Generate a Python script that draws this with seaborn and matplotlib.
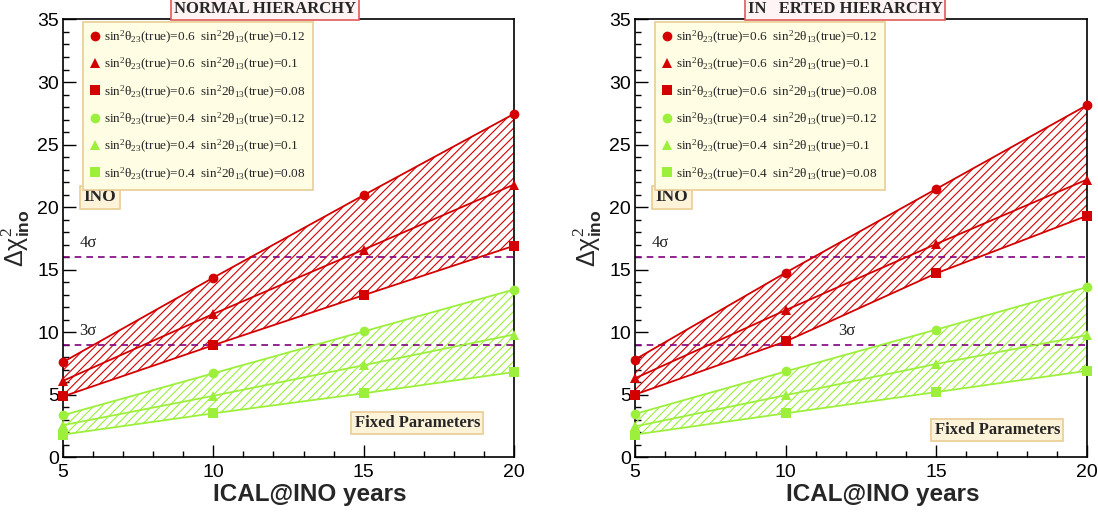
import numpy as np
import pandas as pd
import matplotlib
matplotlib.use("Agg")
import matplotlib.pyplot as plt
from matplotlib.lines import Line2D
from matplotlib.ticker import MultipleLocator
import seaborn as sns

# ---- data: delta chi^2 vs exposure (years) ----
years = [5, 10, 15, 20]

nh_06_012 = [7.6, 14.35, 20.95, 27.45]
nh_06_010 = [6.1, 11.45, 16.6, 21.8]
nh_06_008 = [4.85, 8.95, 12.95, 16.9]
nh_04_012 = [3.35, 6.7, 10.05, 13.4]
nh_04_010 = [2.55, 4.9, 7.35, 9.8]
nh_04_008 = [1.8, 3.5, 5.1, 6.8]

ih_06_012 = [7.8, 14.75, 21.45, 28.15]
ih_06_010 = [6.3, 11.75, 17.05, 22.2]
ih_06_008 = [5.0, 9.25, 14.7, 19.3]
ih_04_012 = [3.45, 6.85, 10.2, 13.6]
ih_04_010 = [2.45, 4.95, 7.45, 9.75]
ih_04_008 = [1.8, 3.5, 5.2, 6.9]

s23_values = [0.6, 0.6, 0.6, 0.4, 0.4, 0.4]
s13_values = [0.12, 0.1, 0.08, 0.12, 0.1, 0.08]
s23_text = ["0.6", "0.6", "0.6", "0.4", "0.4", "0.4"]
s13_text = ["0.12", "0.1", "0.08", "0.12", "0.1", "0.08"]

panels = {
    "NORMAL HIERARCHY": [nh_06_012, nh_06_010, nh_06_008, nh_04_012, nh_04_010, nh_04_008],
    "IN   ERTED HIERARCHY": [ih_06_012, ih_06_010, ih_06_008, ih_04_012, ih_04_010, ih_04_008],
}
sigma_levels = [16, 9]
sigma_labels = ["4σ", "3σ"]

RED = "#d40000"
GREEN = "#9cf03c"
PURPLE = "#800080"
palette = {0.6: RED, 0.4: GREEN}
marker_map = {0.12: "o", 0.1: "^", 0.08: "s"}

rows = []
for name, series in panels.items():
    for vals, s23, s13 in zip(series, s23_values, s13_values):
        for y, v in zip(years, vals):
            rows.append({"panel": name, "year": y, "chi2": v, "s23": s23, "s13": s13})
df = pd.DataFrame(rows)

sns.set_style("white")
plt.rcParams["font.family"] = ["Liberation Sans", "DejaVu Sans"]
plt.rcParams["mathtext.fontset"] = "custom"
plt.rcParams["mathtext.rm"] = "Liberation Serif"
plt.rcParams["mathtext.it"] = "Liberation Serif:italic"
plt.rcParams["mathtext.bf"] = "Liberation Sans:bold"
plt.rcParams["hatch.linewidth"] = 0.8

fig = plt.figure(figsize=(10.98, 5.13), dpi=100)
axes_rects = [[0.0574, 0.109, 0.4107, 0.853], [0.5783, 0.109, 0.4117, 0.853]]
title_x = [265 / 1098, 845 / 1098]
sigma_text_x = [[5.55, 5.55], [5.55, 11.75]]
fixed_box_x = [0.925, 0.94]
fixed_box_y = [0.078, 0.062]

serif = ["Liberation Serif", "DejaVu Serif"]

for i, (name, series) in enumerate(panels.items()):
    ax = fig.add_axes(axes_rects[i])
    sub = df[df["panel"] == name]

    # hatched bands between the 0.12 and 0.08 curves
    for hi, lo, col in [(series[0], series[2], RED), (series[3], series[5], GREEN)]:
        ax.fill_between(years, lo, hi, facecolor="none", edgecolor=col,
                        hatch="////", linewidth=0, zorder=1)

    sns.lineplot(data=sub, x="year", y="chi2", hue="s23", style="s13",
                 palette=palette, markers=marker_map, dashes=False,
                 markersize=7, markeredgewidth=0, linewidth=1.3,
                 legend=False, ax=ax, clip_on=False, zorder=3)

    for lvl, lab, tx in zip(sigma_levels, sigma_labels, sigma_text_x[i]):
        ax.axhline(lvl, color=PURPLE, linestyle=(0, (4, 3)), linewidth=1.2, zorder=2)
        ax.text(tx, lvl + 0.45, lab, family=serif, fontsize=12,
                ha="left", va="bottom", color="#222222")

    ax.set_xlim(5, 20)
    ax.set_ylim(0, 35)
    ax.xaxis.set_major_locator(MultipleLocator(5))
    ax.xaxis.set_minor_locator(MultipleLocator(1))
    ax.yaxis.set_major_locator(MultipleLocator(5))
    ax.yaxis.set_minor_locator(MultipleLocator(1))
    ax.tick_params(which="both", direction="in", bottom=True, left=True,
                   top=False, right=False, labelsize=14, colors="black")
    ax.tick_params(which="major", length=9, width=1)
    ax.tick_params(which="minor", length=4.5, width=1)
    ax.tick_params(axis="x", pad=5)
    ax.tick_params(axis="y", pad=3)
    for sp in ax.spines.values():
        sp.set_color("black")
        sp.set_linewidth(1.2)

    ax.set_xlabel("ICAL@INO years", fontsize=17.5, fontweight="bold")
    ax.xaxis.set_label_coords(0.548, -0.06)
    ax.set_ylabel("Δχ$^{2}_{\\mathbf{ino}}$", fontsize=18)
    ax.yaxis.set_label_coords(-0.068, 0.5)

    handles = [Line2D([], [], linestyle="none", marker=marker_map[s13],
                      color=palette[s23], markersize=7, markeredgewidth=0)
               for s23, s13 in zip(s23_values, s13_values)]
    labels = ["sin$^{2}$θ$_{23}$(true)=%s  sin$^{2}$2θ$_{13}$(true)=%s" % (a, b)
              for a, b in zip(s23_text, s13_text)]
    leg = ax.legend(handles, labels, loc="upper left", bbox_to_anchor=(0.044, 0.995),
                    borderaxespad=0, frameon=True, fancybox=False, framealpha=1,
                    prop={"family": serif, "size": 9.5}, labelspacing=0.78,
                    handlelength=0.7, handletextpad=0.35, borderpad=0.55,
                    handleheight=1.0)
    leg.get_frame().set_facecolor("#fffde3")
    leg.get_frame().set_edgecolor("#e9cd94")
    leg.get_frame().set_linewidth(1.2)

    ax.text(0.045, 0.594, "INO", transform=ax.transAxes, family=serif,
            fontsize=12.5, fontweight="bold", ha="left", va="center",
            bbox=dict(boxstyle="square,pad=0.2", facecolor="#fdf3d9",
                      edgecolor="#e9cd94", linewidth=1.2))
    ax.text(fixed_box_x[i], fixed_box_y[i], "Fixed Parameters", transform=ax.transAxes,
            family=serif, fontsize=12, fontweight="bold", ha="right", va="center",
            bbox=dict(boxstyle="square,pad=0.2", facecolor="#fdf3d9",
                      edgecolor="#e9cd94", linewidth=1.2))

    fig.text(title_x[i], 1 - 9 / 513, name, family=serif, fontsize=12,
             fontweight="bold", ha="center", va="center",
             bbox=dict(boxstyle="square,pad=0.15", facecolor="#fff4f4",
                       edgecolor="#e05a5a", linewidth=1.2))

fig.savefig("out.png", dpi=100)
